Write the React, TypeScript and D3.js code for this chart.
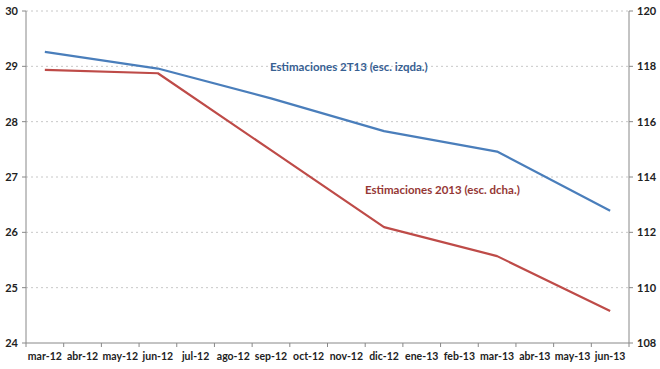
import React from 'react'
import { scaleBand, scaleLinear, line } from 'd3'

const months = ['mar-12', 'abr-12', 'may-12', 'jun-12', 'jul-12', 'ago-12', 'sep-12', 'oct-12', 'nov-12', 'dic-12', 'ene-13', 'feb-13', 'mar-13', 'abr-13', 'may-13', 'jun-13']
// quarterly estimates, null where no value
const est2T13: (number | null)[] = [29.26, null, null, 28.96, null, null, 28.42, null, null, 27.83, null, null, 27.46, null, null, 26.39]
const est2013: (number | null)[] = [117.87, null, null, 117.75, null, null, 114.97, null, null, 112.19, null, null, 111.14, null, null, 109.16]
const leftTicks = [24, 25, 26, 27, 28, 29, 30]
const rightTicks = [108, 110, 112, 114, 116, 118, 120]

const width = 660
const height = 369
const margin = { top: 11, right: 31, bottom: 26, left: 26 }
const font = 'Lato, "Open Sans", sans-serif'

const App = () => {
  const x = scaleBand().domain(months).range([margin.left, width - margin.right])
  const yL = scaleLinear().domain([24, 30]).range([height - margin.bottom, margin.top])
  const yR = scaleLinear().domain([108, 120]).range([height - margin.bottom, margin.top])
  const cx = (m: string) => (x(m) || 0) + x.bandwidth() / 2

  const pts = (vals: (number | null)[]) =>
    months.map((m, i) => [m, vals[i]] as [string, number | null]).filter(d => d[1] !== null) as [string, number][]

  const blueLine = line<[string, number]>().x(d => cx(d[0])).y(d => yL(d[1]))
  const redLine = line<[string, number]>().x(d => cx(d[0])).y(d => yR(d[1]))

  const x0 = margin.left
  const x1 = width - margin.right
  const yb = height - margin.bottom

  return (
    <svg width={width} height={height} style={{ position: 'absolute', left: 0, top: 0, background: '#fff' }}>
      {leftTicks.map(t => (
        <g key={t}>
          {t !== 24 && <line x1={x0} x2={x1} y1={yL(t)} y2={yL(t)} stroke="#c8c8c8" strokeWidth={1} strokeDasharray="2,3" />}
          <line x1={x0 - 4} x2={x0} y1={yL(t)} y2={yL(t)} stroke="#888" />
          <text x={18} y={yL(t)} dy="0.35em" textAnchor="end" fontFamily={font} fontWeight="bold" fontSize={11} fill="#222">{t}</text>
        </g>
      ))}
      {rightTicks.map(t => (
        <g key={t}>
          <line x1={x1} x2={x1 + 4} y1={yR(t)} y2={yR(t)} stroke="#888" />
          <text x={637} y={yR(t)} dy="0.35em" textAnchor="start" fontFamily={font} fontWeight="bold" fontSize={11} fill="#222">{t}</text>
        </g>
      ))}
      <line x1={x0} x2={x0} y1={margin.top} y2={yb} stroke="#888" />
      <line x1={x1} x2={x1} y1={margin.top} y2={yb} stroke="#888" />
      <line x1={x0} x2={x1} y1={yb} y2={yb} stroke="#888" />
      {months.map((m, i) => (
        <g key={m}>
          <line x1={x(m)} x2={x(m)} y1={yb} y2={yb + 4} stroke="#888" />
          {i === months.length - 1 && <line x1={x1} x2={x1} y1={yb} y2={yb + 4} stroke="#888" />}
          <text x={cx(m)} y={356} dy="0.35em" textAnchor="middle" fontFamily={font} fontWeight="bold" fontSize={10.5} fill="#222">{m}</text>
        </g>
      ))}
      <path d={blueLine(pts(est2T13)) || ''} fill="none" stroke="#4a7ebb" strokeWidth={2.2} strokeLinejoin="round" />
      <path d={redLine(pts(est2013)) || ''} fill="none" stroke="#be4b48" strokeWidth={2.2} strokeLinejoin="round" />
      <text x={270} y={67} dy="0.35em" fontFamily={font} fontWeight="bold" fontSize={11.5} fill="#376092">Estimaciones 2T13 (esc. izqda.)</text>
      <text x={365} y={190} dy="0.35em" fontFamily={font} fontWeight="bold" fontSize={11.5} fill="#953735">Estimaciones 2013 (esc. dcha.)</text>
    </svg>
  )
}

export default App
